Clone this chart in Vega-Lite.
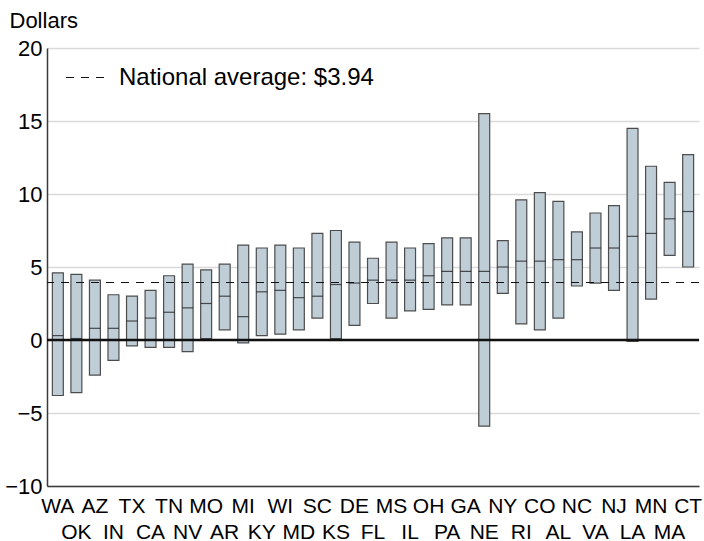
{
  "$schema": "https://vega.github.io/schema/vega-lite/v6.json",
  "width": 652,
  "height": 438,
  "autosize": "none",
  "padding": {"left": 47, "top": 48, "right": 5, "bottom": 55},
  "config": {"view": {"stroke": null}, "font": "Liberation Sans"},
  "datasets": {
    "states": [
      {"state": "WA", "low": -3.8, "high": 4.6, "median": 0.3},
      {"state": "OK", "low": -3.6, "high": 4.5, "median": 0.1},
      {"state": "AZ", "low": -2.4, "high": 4.1, "median": 0.8},
      {"state": "IN", "low": -1.4, "high": 3.1, "median": 0.8},
      {"state": "TX", "low": -0.4, "high": 3.0, "median": 1.3},
      {"state": "CA", "low": -0.5, "high": 3.4, "median": 1.5},
      {"state": "TN", "low": -0.5, "high": 4.4, "median": 1.9},
      {"state": "NV", "low": -0.8, "high": 5.2, "median": 2.2},
      {"state": "MO", "low": 0.1, "high": 4.8, "median": 2.5},
      {"state": "AR", "low": 0.7, "high": 5.2, "median": 3.0},
      {"state": "MI", "low": -0.2, "high": 6.5, "median": 1.6},
      {"state": "KY", "low": 0.3, "high": 6.3, "median": 3.3},
      {"state": "WI", "low": 0.4, "high": 6.5, "median": 3.4},
      {"state": "MD", "low": 0.7, "high": 6.3, "median": 2.9},
      {"state": "SC", "low": 1.5, "high": 7.3, "median": 3.0},
      {"state": "KS", "low": 0.1, "high": 7.5, "median": 3.8},
      {"state": "DE", "low": 1.0, "high": 6.7, "median": 3.9},
      {"state": "FL", "low": 2.5, "high": 5.6, "median": 4.1},
      {"state": "MS", "low": 1.5, "high": 6.7, "median": 4.1},
      {"state": "IL", "low": 2.0, "high": 6.3, "median": 4.1},
      {"state": "OH", "low": 2.1, "high": 6.6, "median": 4.4},
      {"state": "PA", "low": 2.4, "high": 7.0, "median": 4.7},
      {"state": "GA", "low": 2.4, "high": 7.0, "median": 4.7},
      {"state": "NE", "low": -5.9, "high": 15.5, "median": 4.7},
      {"state": "NY", "low": 3.2, "high": 6.8, "median": 5.0},
      {"state": "RI", "low": 1.1, "high": 9.6, "median": 5.4},
      {"state": "CO", "low": 0.7, "high": 10.1, "median": 5.4},
      {"state": "AL", "low": 1.5, "high": 9.5, "median": 5.5},
      {"state": "NC", "low": 3.7, "high": 7.4, "median": 5.5},
      {"state": "VA", "low": 3.9, "high": 8.7, "median": 6.3},
      {"state": "NJ", "low": 3.4, "high": 9.2, "median": 6.3},
      {"state": "LA", "low": -0.1, "high": 14.5, "median": 7.1},
      {"state": "MN", "low": 2.8, "high": 11.9, "median": 7.3},
      {"state": "MA", "low": 5.8, "high": 10.8, "median": 8.3},
      {"state": "CT", "low": 5.0, "high": 12.7, "median": 8.8}
    ],
    "avg": [{"label": "National average: $3.94", "avg": 3.94}],
    "zero": [{"zero": 0}]
  },
  "layer": [
    {
      "data": {"name": "states"},
      "mark": {"type": "bar", "fill": "#bfcdd7", "stroke": "#4d4d4d", "strokeWidth": 1.2},
      "encoding": {
        "x": {
          "field": "state", "type": "nominal", "sort": null,
          "scale": {"paddingInner": 0.41, "paddingOuter": 0.29},
          "axis": {
            "title": null, "domainColor": "#3a3a3a", "domainWidth": 1.5, "ticks": false,
            "labelAngle": 0, "labelFontSize": 21, "labelColor": "#000", "labelBaseline": "top",
            "labelOverlap": false,
            "labelPadding": {"condition": {"test": "indexof(['OK','IN','CA','NV','AR','KY','MD','KS','FL','IL','PA','NE','RI','AL','VA','LA','MA'], datum.value) >= 0", "value": 35}, "value": 9}
          }
        },
        "y": {
          "field": "low", "type": "quantitative",
          "scale": {"domain": [-10, 20], "nice": false, "zero": false},
          "axis": {
            "title": "Dollars", "titleAngle": 0, "titleAlign": "left", "titleBaseline": "alphabetic",
            "titleX": -38, "titleY": -21, "titleFontSize": 22, "titleFontWeight": "normal", "titleColor": "#000",
            "values": [-10, -5, 0, 5, 10, 15, 20], "ticks": false,
            "labelFontSize": 22, "labelPadding": 5, "labelColor": "#000", "labelFlush": false,
            "gridColor": "#d9d9d9", "gridWidth": 1.5, "domainColor": "#3a3a3a", "domainWidth": 1.5
          }
        },
        "y2": {"field": "high"}
      }
    },
    {
      "data": {"name": "states"},
      "mark": {"type": "tick", "color": "#111", "thickness": 1.2, "size": 11},
      "encoding": {
        "x": {"field": "state", "type": "nominal", "sort": null},
        "y": {"field": "median", "type": "quantitative"}
      }
    },
    {
      "data": {"name": "zero"},
      "mark": {"type": "rule", "color": "#111", "strokeWidth": 2.5},
      "encoding": {"y": {"field": "zero", "type": "quantitative"}}
    },
    {
      "data": {"name": "avg"},
      "mark": {"type": "rule", "color": "#111", "strokeWidth": 1.2},
      "encoding": {
        "y": {"field": "avg", "type": "quantitative"},
        "strokeDash": {
          "field": "label", "type": "nominal",
          "scale": {"range": [[8, 7]]},
          "legend": {
            "title": null, "orient": "none", "legendX": 18, "legendY": 8,
            "symbolType": "stroke", "symbolSize": 1681, "symbolStrokeWidth": 1.2, "symbolStrokeColor": "#111",
            "labelFontSize": 24, "labelOffset": 11, "labelColor": "#000", "padding": 0, "labelLimit": 400
          }
        }
      }
    }
  ]
}
